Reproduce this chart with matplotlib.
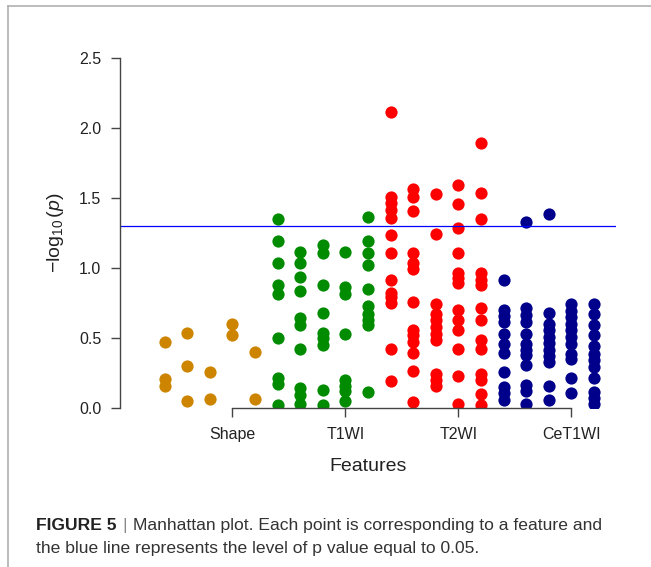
import matplotlib
matplotlib.use('Agg')
import matplotlib.pyplot as plt
from matplotlib.lines import Line2D

plt.rcParams['font.family'] = ['Liberation Sans', 'DejaVu Sans']
plt.rcParams['mathtext.fontset'] = 'custom'
plt.rcParams['mathtext.rm'] = 'Liberation Sans'
plt.rcParams['mathtext.it'] = 'Liberation Sans:italic'

# -log10(p) per feature, one list per column, grouped by sequence
shape_vals = [
    [0.47, 0.21, 0.155],
    [0.535, 0.30, 0.052],
    [0.257, 0.066],
    [0.598, 0.519],
    [0.398, 0.061],
]
t1wi_vals = [
    [1.35, 1.193, 1.035, 0.882, 0.811, 0.498, 0.214, 0.173, 0.023],
    [1.114, 1.035, 0.935, 0.839, 0.641, 0.591, 0.419, 0.140, 0.092, 0.027],
    [1.162, 1.104, 0.882, 0.679, 0.536, 0.498, 0.45, 0.128, 0.023],
    [1.114, 0.861, 0.813, 0.529, 0.199, 0.159, 0.123, 0.052],
    [1.367, 1.195, 1.104, 1.019, 0.847, 0.73, 0.67, 0.63, 0.59, 0.116],
]
t2wi_vals = [
    [2.112, 1.51, 1.463, 1.415, 1.355, 1.236, 1.109, 0.913, 0.822, 0.794, 0.751, 0.424, 0.192],
    [1.563, 1.506, 1.408, 1.109, 1.037, 0.99, 0.758, 0.56, 0.519, 0.474, 0.395, 0.264, 0.042],
    [1.527, 1.243, 0.746, 0.675, 0.627, 0.579, 0.532, 0.484, 0.245, 0.202, 0.159],
    [1.594, 1.46, 1.288, 1.109, 0.966, 0.926, 0.89, 0.698, 0.627, 0.56, 0.424, 0.226, 0.03],
    [1.893, 1.539, 1.353, 0.961, 0.913, 0.878, 0.711, 0.632, 0.489, 0.424, 0.245, 0.202, 0.102, 0.018],
]
cet1wi_vals = [
    [0.913, 0.698, 0.655, 0.615, 0.531, 0.455, 0.393, 0.257, 0.149, 0.106, 0.059],
    [1.331, 0.711, 0.663, 0.615, 0.531, 0.46, 0.412, 0.376, 0.304, 0.161, 0.125, 0.03],
    [1.386, 0.679, 0.598, 0.555, 0.507, 0.464, 0.417, 0.369, 0.328, 0.154, 0.054],
    [0.746, 0.694, 0.65, 0.603, 0.555, 0.507, 0.455, 0.388, 0.352, 0.214, 0.109],
    [0.746, 0.675, 0.591, 0.519, 0.441, 0.388, 0.34, 0.292, 0.216, 0.113, 0.073, 0.03],
]
groups = ['Shape', 'T1WI', 'T2WI', 'CeT1WI']
colors = ['#CD8500', '#008B00', '#FF0000', '#00008B']
threshold = 1.30103  # -log10(0.05)

fig = plt.figure(figsize=(6.51, 5.67), dpi=100)
ax = fig.add_axes([120 / 651, 159 / 567, 496 / 651, 350 / 567])

col = 0
tick_pos = []
for vals, c in zip([shape_vals, t1wi_vals, t2wi_vals, cet1wi_vals], colors):
    for column in vals:
        col += 1
        ax.plot([col] * len(column), column, 'o', color=c, ms=8.8, mec='none')
    tick_pos.append(col - 1)

ax.axhline(threshold, color='#0000FF', lw=0.9)

ax.set_xlim(-0.97, 20.97)
ax.set_ylim(0, 2.5)
ax.set_yticks([0, 0.5, 1.0, 1.5, 2.0, 2.5])
ax.set_yticklabels(['0.0', '0.5', '1.0', '1.5', '2.0', '2.5'])
ax.set_xticks(tick_pos)
ax.set_xticklabels(groups)
for s in ['top', 'right']:
    ax.spines[s].set_visible(False)
ax.spines['left'].set_bounds(0, 2.5)
ax.spines['bottom'].set_bounds(tick_pos[0], tick_pos[-1])
for s in ['left', 'bottom']:
    ax.spines[s].set_color('#444444')
    ax.spines[s].set_linewidth(1.0)
ax.tick_params(length=6.5, width=1.0, color='#444444', labelsize=11.5,
               labelcolor='#222222', pad=7)
ax.set_xlabel('Features', fontsize=14, color='#222222', labelpad=12)
ax.set_ylabel(r'$-\log_{10}(\mathit{p})$', fontsize=14, color='#222222', labelpad=9)

# page frame lines
fig.add_artist(Line2D([8 / 651, 8 / 651], [0, 1 - 6 / 567], color='#b0b0b0', lw=1.2))
fig.add_artist(Line2D([8 / 651, 1], [1 - 6 / 567, 1 - 6 / 567], color='#b0b0b0', lw=1.2))

# caption
renderer = fig.canvas.get_renderer()
y1 = 1 - 530 / 567
fs = 12.6
t = fig.text(36 / 651, y1, 'FIGURE 5', fontsize=fs, fontweight='bold', color='#222222')
bb = t.get_window_extent(renderer=renderer)
x = bb.x1 / fig.bbox.width + 6 / 651
t2 = fig.text(x, y1, '|', fontsize=fs, color='#888888')
bb = t2.get_window_extent(renderer=renderer)
x = bb.x1 / fig.bbox.width + 6 / 651
fig.text(x, y1, 'Manhattan plot. Each point is corresponding to a feature and',
         fontsize=fs, color='#333333')
fig.text(36 / 651, 1 - 553 / 567,
         'the blue line represents the level of p value equal to 0.05.',
         fontsize=fs, color='#333333')

fig.savefig('out.png', dpi=100)
